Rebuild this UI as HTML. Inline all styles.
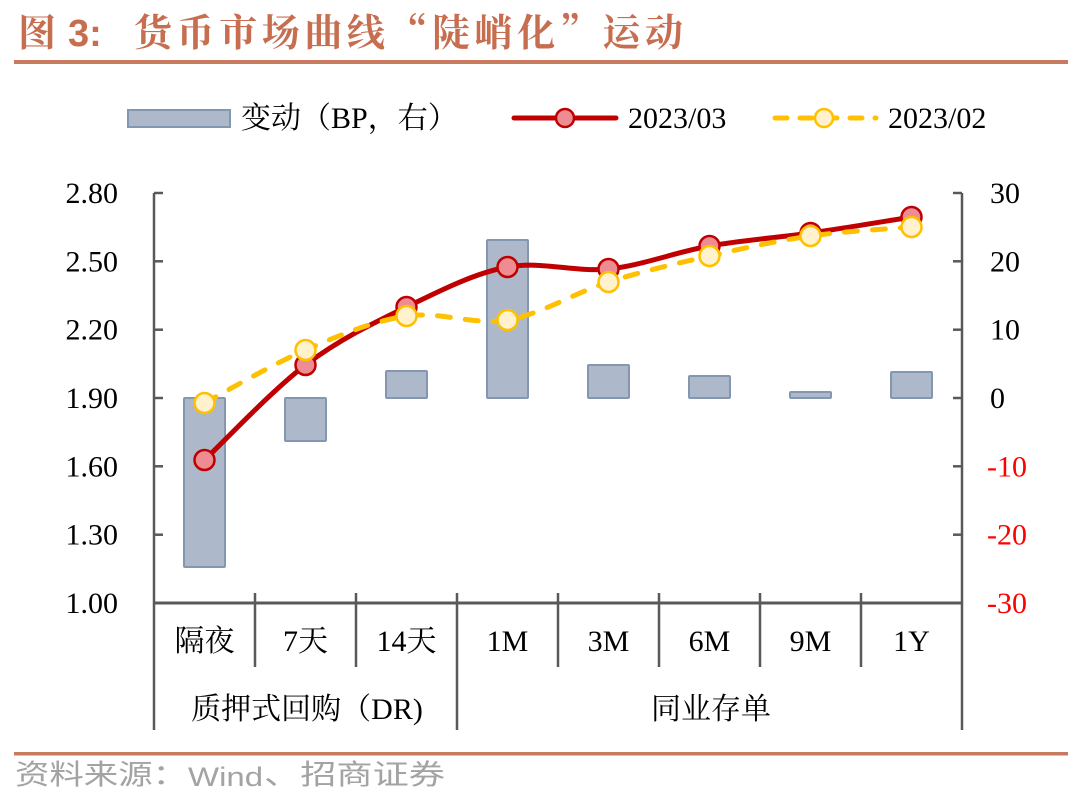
<!DOCTYPE html>
<html><head><meta charset="utf-8"><style>
html,body{margin:0;padding:0;background:#fff;}
svg{display:block;}
.s{font-family:"Liberation Serif","Noto Serif CJK SC",serif;}
</style></head><body>
<svg width="1080" height="805" viewBox="0 0 1080 805" xmlns="http://www.w3.org/2000/svg">
<rect width="1080" height="805" fill="#fff"/>
<!-- title -->
<text x="18" y="46" font-family="Noto Serif CJK SC, serif" font-weight="700" font-size="38" fill="#C76E50">图</text>
<text x="68" y="46" font-family="Liberation Sans, sans-serif" font-weight="700" font-size="38" fill="#C76E50">3:</text>
<text x="134" y="46" font-family="Noto Serif CJK SC, serif" font-weight="700" font-size="38" fill="#C76E50" textLength="549" lengthAdjust="spacing">货币市场曲线“陡峭化”运动</text>
<rect x="14" y="60" width="1054" height="4" fill="#C87A5E"/>

<!-- legend -->
<rect x="128" y="110" width="102" height="17" fill="#ADB9CA" stroke="#8497B0" stroke-width="2"/>
<text class="s" x="241" y="128" font-size="30" fill="#000">变动（BP，右）</text>
<line x1="514" y1="118" x2="616" y2="118" stroke="#C00000" stroke-width="5" stroke-linecap="round"/>
<circle cx="565" cy="118" r="9" fill="#EE8C94" stroke="#C00000" stroke-width="2.5"/>
<text class="s" x="628" y="128" font-size="30" fill="#000">2023/03</text>
<line x1="775" y1="118" x2="876" y2="118" stroke="#FFC000" stroke-width="5" stroke-linecap="round" stroke-dasharray="12 13"/>
<circle cx="824" cy="118" r="9" fill="#FFF2CC" stroke="#FFC000" stroke-width="2.5"/>
<text class="s" x="888" y="128" font-size="30" fill="#000">2023/02</text>

<!-- bars -->
<g fill="#ADB9CA" stroke="#8497B0" stroke-width="2">
<rect x="184" y="398" width="41" height="169" rx="1"/>
<rect x="285" y="398" width="41" height="43" rx="1"/>
<rect x="386" y="371" width="41" height="27" rx="1"/>
<rect x="487" y="240" width="41" height="158" rx="1"/>
<rect x="588" y="365" width="41" height="33" rx="1"/>
<rect x="689" y="376" width="41" height="22" rx="1"/>
<rect x="790" y="392" width="41" height="6" rx="1"/>
<rect x="891" y="372" width="41" height="26" rx="1"/>
</g>

<!-- axes -->
<g stroke="#595959" stroke-width="2.5" fill="none">
<line x1="154" y1="193" x2="154" y2="730"/>
<line x1="962" y1="193" x2="962" y2="730"/>
<line x1="154" y1="603" x2="962" y2="603" stroke-width="3"/>
<line x1="154" y1="193" x2="163" y2="193"/>
<line x1="154" y1="261.3" x2="163" y2="261.3"/>
<line x1="154" y1="329.7" x2="163" y2="329.7"/>
<line x1="154" y1="398" x2="163" y2="398"/>
<line x1="154" y1="466.3" x2="163" y2="466.3"/>
<line x1="154" y1="534.7" x2="163" y2="534.7"/>
<line x1="953" y1="193" x2="962" y2="193"/>
<line x1="953" y1="261.3" x2="962" y2="261.3"/>
<line x1="953" y1="329.7" x2="962" y2="329.7"/>
<line x1="953" y1="398" x2="962" y2="398"/>
<line x1="953" y1="466.3" x2="962" y2="466.3"/>
<line x1="953" y1="534.7" x2="962" y2="534.7"/>
<line x1="255" y1="593" x2="255" y2="667"/>
<line x1="356" y1="593" x2="356" y2="667"/>
<line x1="457" y1="593" x2="457" y2="730"/>
<line x1="558" y1="593" x2="558" y2="667"/>
<line x1="659" y1="593" x2="659" y2="667"/>
<line x1="760" y1="593" x2="760" y2="667"/>
<line x1="861" y1="593" x2="861" y2="667"/>
</g>

<!-- red series -->
<path d="M204.5,460 C221.3,444.2 271.8,390.5 305.5,365 C339.2,339.5 372.8,323.3 406.5,307 C440.2,290.7 473.8,273.3 507.5,267 C541.2,260.7 574.8,272.5 608.5,269 C642.2,265.5 675.8,252 709.5,246 C743.2,240 776.8,237.8 810.5,233 C844.2,228.2 894.7,219.7 911.5,217" fill="none" stroke="#C00000" stroke-width="5" stroke-linejoin="round"/>
<g fill="#EE8C94" stroke="#C00000" stroke-width="2.5">
<circle cx="204.5" cy="460" r="10"/>
<circle cx="305.5" cy="365" r="10"/>
<circle cx="406.5" cy="307" r="10"/>
<circle cx="507.5" cy="267" r="10"/>
<circle cx="608.5" cy="269" r="10"/>
<circle cx="709.5" cy="246" r="10"/>
<circle cx="810.5" cy="233" r="10"/>
<circle cx="911.5" cy="217" r="10"/>
</g>

<!-- yellow series -->
<path d="M204.5,403 C221.3,394.2 271.8,364.5 305.5,350 C339.2,335.5 372.8,321 406.5,316 C440.2,311 473.8,325.7 507.5,320 C541.2,314.3 574.8,292.7 608.5,282 C642.2,271.3 675.8,263.7 709.5,256 C743.2,248.3 776.8,240.8 810.5,236 C844.2,231.2 894.7,228.5 911.5,227" fill="none" stroke="#FFC000" stroke-width="5" stroke-linecap="round" stroke-dasharray="13 15"/>
<g fill="#FFF2CC" stroke="#FFC000" stroke-width="2.5">
<circle cx="204.5" cy="403" r="10"/>
<circle cx="305.5" cy="350" r="10"/>
<circle cx="406.5" cy="316" r="10"/>
<circle cx="507.5" cy="320" r="10"/>
<circle cx="608.5" cy="282" r="10"/>
<circle cx="709.5" cy="256" r="10"/>
<circle cx="810.5" cy="236" r="10"/>
<circle cx="911.5" cy="227" r="10"/>
</g>

<!-- left labels -->
<g class="s" font-size="30" fill="#000" text-anchor="end">
<text x="118" y="203">2.80</text>
<text x="118" y="271.3">2.50</text>
<text x="118" y="339.7">2.20</text>
<text x="118" y="408">1.90</text>
<text x="118" y="476.3">1.60</text>
<text x="118" y="544.7">1.30</text>
<text x="118" y="613">1.00</text>
</g>
<!-- right labels -->
<g class="s" font-size="30">
<text x="990" y="203" fill="#000">30</text>
<text x="990" y="271.3" fill="#000">20</text>
<text x="990" y="339.7" fill="#000">10</text>
<text x="990" y="408" fill="#000">0</text>
<text x="987" y="476.3" fill="#FF0000">-10</text>
<text x="987" y="544.7" fill="#FF0000">-20</text>
<text x="987" y="613" fill="#FF0000">-30</text>
</g>
<!-- category labels -->
<g class="s" font-size="30" fill="#000" text-anchor="middle">
<text x="204.5" y="651">隔夜</text>
<text x="305.5" y="651">7天</text>
<text x="406.5" y="651">14天</text>
<text x="507.5" y="651">1M</text>
<text x="608.5" y="651">3M</text>
<text x="709.5" y="651">6M</text>
<text x="810.5" y="651">9M</text>
<text x="911.5" y="651">1Y</text>
<text x="307" y="719">质押式回购（DR)</text>
<text x="711" y="719">同业存单</text>
</g>

<!-- footer -->
<rect x="14" y="752" width="1054" height="3.5" fill="#C87A5E"/>
<g font-family="Liberation Sans, Noto Sans CJK SC, sans-serif" fill="#A3A3A3">
<text x="15" y="784" font-size="28" textLength="172" lengthAdjust="spacingAndGlyphs">资料来源：</text>
<text x="188" y="786" font-size="27" textLength="75" lengthAdjust="spacingAndGlyphs">Wind</text>
<text x="264" y="784" font-size="28" textLength="181" lengthAdjust="spacingAndGlyphs">、招商证券</text>
</g>
</svg>
</body></html>
